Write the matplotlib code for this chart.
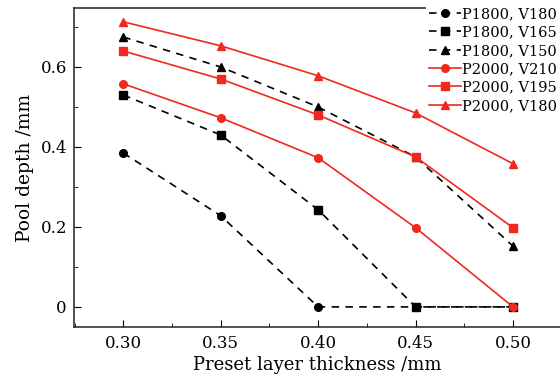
import matplotlib
matplotlib.use("Agg")
import matplotlib.pyplot as plt
from matplotlib.ticker import MultipleLocator, FixedLocator

thickness = [0.30, 0.35, 0.40, 0.45, 0.50]

labels = ["P1800, V180", "P1800, V165", "P1800, V150",
          "P2000, V210", "P2000, V195", "P2000, V180"]
p1800_v180 = [0.385, 0.228, 0.0, 0.0, 0.0]
p1800_v165 = [0.530, 0.430, 0.243, 0.0, 0.0]
p1800_v150 = [0.675, 0.600, 0.500, 0.375, 0.152]
p2000_v210 = [0.558, 0.473, 0.373, 0.198, 0.0]
p2000_v195 = [0.640, 0.570, 0.480, 0.375, 0.198]
p2000_v180 = [0.713, 0.653, 0.578, 0.485, 0.358]

series = [p1800_v180, p1800_v165, p1800_v150, p2000_v210, p2000_v195, p2000_v180]
markers = ["o", "s", "^", "o", "s", "^"]
red = "#f0281e"

plt.rcParams["font.family"] = "DejaVu Serif"
plt.rcParams["font.size"] = 10

fig = plt.figure(figsize=(5.6, 3.81), dpi=100)
ax = fig.add_axes([0.132, 0.142, 0.868, 0.837])

for i, (vals, m, lab) in enumerate(zip(series, markers, labels)):
    if i < 3:
        ax.plot(thickness, vals, color="black", ls=(0, (4.5, 3.8)), lw=1.2,
                marker=m, ms=5.5, label=lab)
    else:
        ax.plot(thickness, vals, color=red, ls="-", lw=1.2,
                marker=m, ms=5.5, label=lab)

ax.set_xlim(0.2747, 0.5241)
ax.set_ylim(-0.05, 0.7475)
ax.xaxis.set_major_locator(FixedLocator(thickness))
ax.xaxis.set_minor_locator(MultipleLocator(0.025))
ax.yaxis.set_major_locator(FixedLocator([0, 0.2, 0.4, 0.6]))
ax.yaxis.set_minor_locator(MultipleLocator(0.1))
ax.set_xticklabels(["%.2f" % t for t in thickness])
ax.set_yticklabels(["0", "0.2", "0.4", "0.6"])
ax.tick_params(which="both", direction="in", top=False, right=False)
ax.tick_params(which="major", length=5, labelsize=12, pad=6)
ax.tick_params(axis="y", which="major", pad=5)
ax.tick_params(which="minor", length=3)
ax.spines["right"].set_visible(False)
for s in ["left", "top", "bottom"]:
    ax.spines[s].set_linewidth(1.2)
    ax.spines[s].set_color("#333333")

ax.set_xlabel("Preset layer thickness /mm", fontsize=13, labelpad=3)
ax.set_ylabel("Pool depth /mm", fontsize=13.5, labelpad=5)

leg = ax.legend(loc="upper right", bbox_to_anchor=(1.0, 1.012), fontsize=10.5,
                frameon=True, fancybox=False, framealpha=1, edgecolor="white",
                handlelength=2.2, handletextpad=0.1, labelspacing=0.3,
                borderpad=0.2, borderaxespad=0)
leg.get_frame().set_linewidth(0)

fig.savefig("out.png", dpi=100)
